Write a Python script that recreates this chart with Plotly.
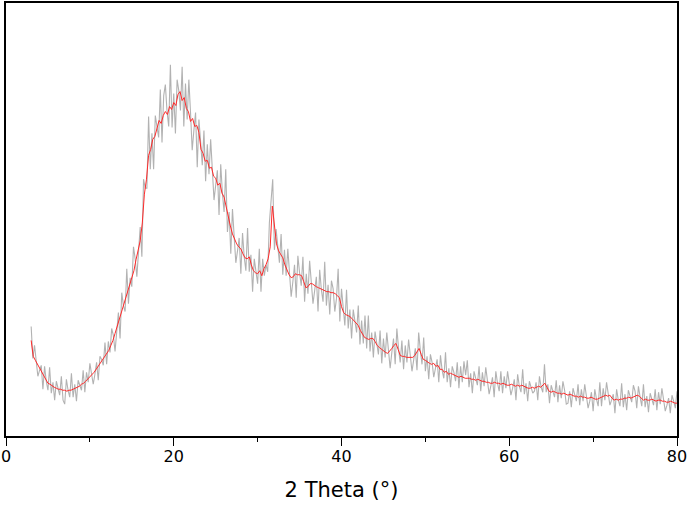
import numpy as np
import plotly.graph_objects as go

# scan grid (2 theta, degrees)
red_start, red_step = 3.0, 0.25
gray_start, gray_step = 3.0, 0.2

# smoothed pattern, 3.00 .. 80.00 every 0.25
smooth = [
    96, 80, 76, 72, 69, 64, 60, 57, 53, 52, 50, 49, 48, 47, 47, 46,
    46, 45, 46, 46, 47, 48, 49, 50, 52, 53, 55, 57, 59, 61, 64, 67,
    70, 73, 76, 79, 83, 86, 91, 96, 103, 110, 117, 124, 131, 137, 143, 150,
    158, 166, 177, 186, 196, 214, 243, 258, 282, 288, 298, 301, 308, 317, 314, 322,
    326, 323, 331, 328, 335, 332, 343, 346, 337, 340, 329, 326, 316, 319, 311, 312,
    305, 288, 284, 276, 277, 269, 270, 261, 259, 252, 254, 244, 240, 230, 219, 211,
    203, 197, 193, 190, 188, 183, 179, 178, 180, 172, 166, 164, 163, 166, 161, 168,
    172, 178, 190, 231, 209, 193, 186, 182, 179, 172, 166, 162, 159, 160, 163, 162,
    162, 161, 155, 149, 150, 153, 153, 151, 150, 149, 148, 147, 146, 145, 145, 144,
    144, 143, 141, 139, 130, 124, 122, 121, 120, 118, 116, 114, 111, 106, 102, 99,
    98, 97, 98, 98, 95, 91, 89, 87, 86, 84, 83, 85, 88, 91, 93, 87,
    81, 80, 80, 79, 79, 79, 79, 81, 84, 88, 82, 77, 76, 74, 73, 72,
    73, 70, 71, 67, 67, 64, 65, 62, 63, 62, 61, 60, 59, 60, 59, 58,
    58, 58, 57, 57, 56, 57, 56, 55, 55, 54, 54, 53, 53, 54, 53, 53,
    52, 53, 52, 51, 51, 52, 51, 50, 51, 50, 51, 50, 49, 48, 48, 49,
    48, 49, 50, 49, 51, 53, 49, 45, 44, 45, 44, 43, 43, 42, 43, 42,
    41, 42, 41, 40, 40, 39, 40, 39, 39, 38, 38, 39, 38, 37, 37, 38,
    39, 40, 41, 40, 41, 38, 36, 37, 36, 37, 37, 38, 38, 39, 38, 39,
    40, 41, 40, 38, 36, 37, 36, 36, 37, 36, 35, 36, 36, 35, 35, 34,
    34, 35, 34, 33, 33,
]

# raw counts, 3.0 .. 80.0 every 0.2
raw = [
    110, 78, 91, 77, 60, 66, 71, 47, 70, 55, 46, 69, 43, 54, 36, 55, 48, 41, 60, 36,
    32, 57, 46, 39, 63, 39, 52, 35, 56, 51, 46, 66, 44, 64, 54, 73, 64, 52, 62, 74,
    56, 80, 77, 71, 94, 72, 95, 84, 108, 101, 85, 105, 124, 98, 144, 131, 125, 168, 133, 159,
    150, 190, 178, 160, 185, 210, 180, 258, 249, 249, 321, 268, 304, 268, 322, 313, 300, 348, 295, 342,
    353, 326, 311, 373, 310, 344, 304, 358, 347, 327, 371, 311, 354, 318, 358, 325, 287, 307, 325, 270,
    318, 296, 272, 307, 256, 293, 263, 298, 271, 237, 252, 267, 222, 273, 244, 225, 268, 205, 225, 183,
    228, 203, 174, 186, 199, 163, 204, 180, 166, 209, 165, 182, 145, 178, 167, 153, 188, 145, 178, 161,
    172, 165, 214, 238, 258, 187, 208, 191, 174, 203, 162, 187, 161, 188, 165, 140, 155, 172, 139, 181,
    164, 151, 180, 135, 163, 143, 176, 158, 133, 146, 160, 125, 167, 147, 135, 175, 131, 152, 122, 156,
    148, 125, 138, 168, 115, 148, 125, 111, 147, 108, 127, 98, 127, 117, 104, 131, 92, 116, 93, 121,
    88, 121, 85, 104, 79, 105, 94, 82, 106, 73, 98, 79, 104, 87, 68, 84, 98, 72, 108, 88,
    74, 96, 67, 91, 74, 97, 83, 65, 76, 88, 66, 104, 86, 72, 99, 65, 80, 57, 82, 74,
    59, 68, 77, 54, 81, 66, 58, 84, 54, 68, 49, 70, 64, 55, 74, 48, 70, 54, 75, 61,
    76, 49, 63, 43, 65, 58, 51, 70, 45, 64, 50, 69, 57, 42, 50, 59, 39, 65, 53, 45,
    65, 43, 60, 48, 65, 54, 41, 48, 57, 36, 62, 50, 44, 67, 42, 53, 35, 55, 49, 43,
    45, 54, 36, 60, 49, 44, 72, 44, 52, 33, 51, 46, 39, 56, 34, 51, 38, 55, 46, 32,
    33, 45, 29, 48, 41, 35, 52, 31, 47, 35, 52, 41, 28, 35, 44, 25, 47, 37, 30, 54,
    30, 48, 36, 54, 43, 31, 36, 42, 23, 47, 36, 30, 53, 29, 42, 26, 46, 39, 34, 51,
    45, 28, 50, 39, 30, 52, 29, 40, 24, 43, 38, 31, 47, 26, 44, 32, 48, 38, 25, 31,
    38, 23, 41, 35, 28, 45,
]

x_smooth = red_start + red_step * np.arange(len(smooth))
x_raw = gray_start + gray_step * np.arange(len(raw))

fig = go.Figure()
fig.add_trace(go.Scatter(x=x_raw, y=raw, mode="lines",
                         line=dict(color="rgba(145,145,145,0.7)", width=1.1),
                         showlegend=False))
fig.add_trace(go.Scatter(x=x_smooth, y=smooth, mode="lines",
                         line=dict(color="#ff2a2a", width=1),
                         showlegend=False))

fig.update_layout(
    width=689, height=506,
    margin=dict(l=6, r=12, t=1, b=70),
    paper_bgcolor="white", plot_bgcolor="white",
    font=dict(family="DejaVu Sans", color="black", size=16),
)
fig.update_xaxes(
    range=[0, 80], dtick=20, tick0=0,
    showline=True, mirror=True, linecolor="black", linewidth=1.5,
    ticks="outside", ticklen=8, tickwidth=1, tickcolor="black",
    ticklabelstandoff=-3,
    minor=dict(dtick=10, ticks="outside", ticklen=4, tickcolor="black"),
    showgrid=False, zeroline=False,
    title=dict(text="2 Theta (°)", font=dict(size=21), standoff=17),
)
fig.update_yaxes(
    range=[0, 435], showline=True, mirror=True, linecolor="black", linewidth=1.5,
    showticklabels=False, ticks="", showgrid=False, zeroline=False,
)

fig.write_html("out.html", config={"displayModeBar": False},
               post_script="document.body.style.margin='0';")
